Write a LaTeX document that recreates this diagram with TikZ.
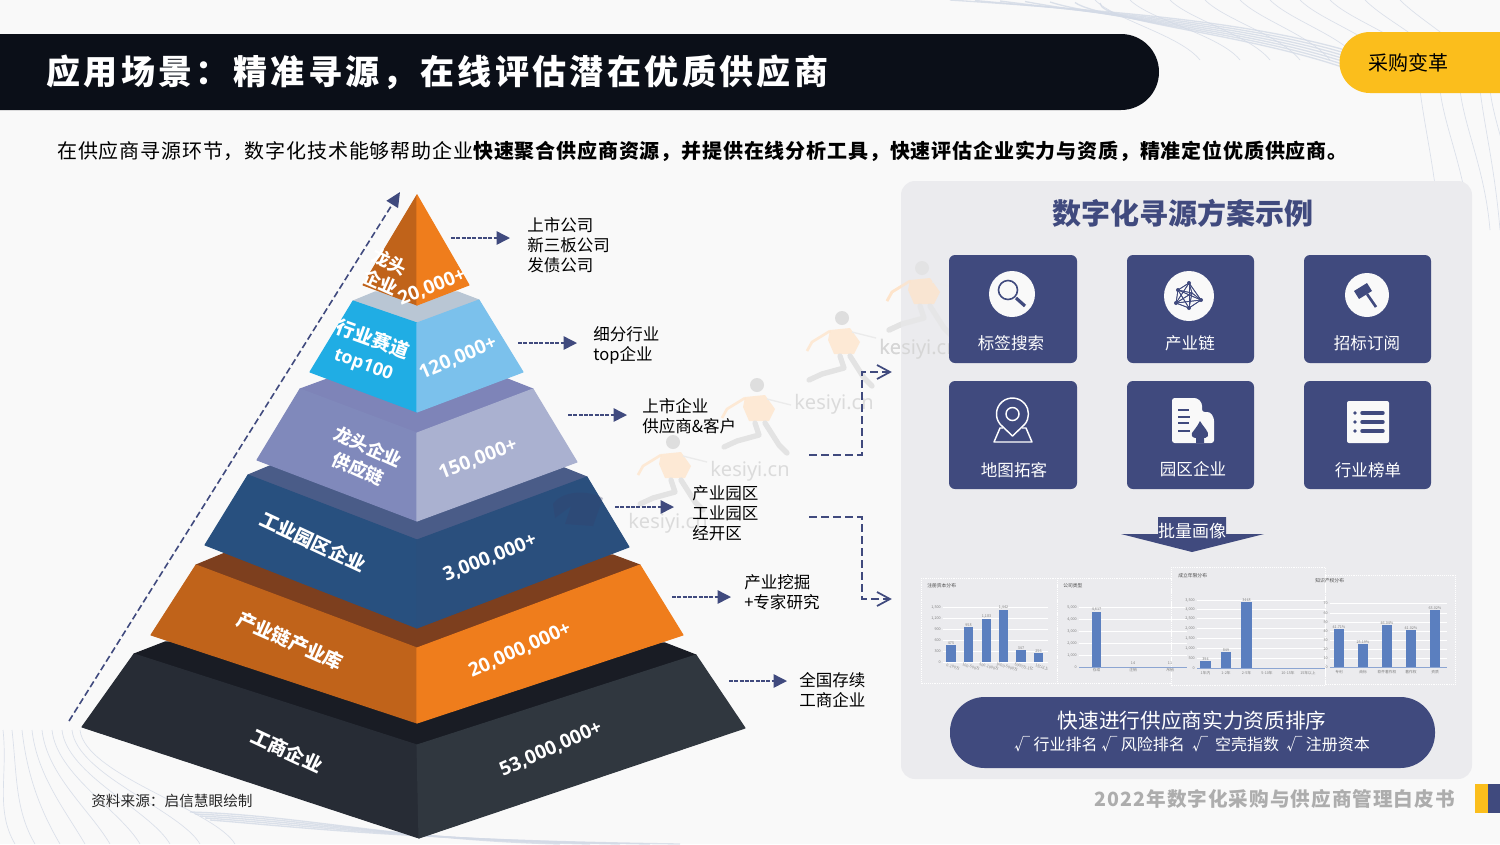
\documentclass[tikz,border=0pt]{standalone}
\usepackage{fontspec}
\setmainfont{Noto Sans CJK SC}
\newfontfamily\titlef[LetterSpace=10]{Noto Sans CJK SC}
\newfontfamily\subf[LetterSpace=4.2]{Noto Sans CJK SC}
\newfontfamily\footf[LetterSpace=5.2]{Noto Sans CJK SC}
\newfontfamily\numf{Open Sans}
\newfontfamily\wmf{Noto Sans}
\definecolor{navy}{HTML}{404A7E}
\definecolor{bg}{HTML}{F9F9F9}
\definecolor{panel}{HTML}{EBEBEE}
\definecolor{barc}{HTML}{5B7FBF}
\definecolor{swirl}{HTML}{D3DAE6}
\definecolor{orR}{HTML}{EF7D1C}
\definecolor{orL}{HTML}{C0631A}
\definecolor{yel}{HTML}{FBBE1C}
\definecolor{hdr}{HTML}{0B0F18}
\usetikzlibrary{arrows.meta}
\tikzset{
  face/.style={line width=0.8pt,line join=round},
  flab/.style={text=white,font=\fontsize{14.25}{17}\selectfont\bfseries,align=center,inner sep=0},
  nlab/.style={text=white,font=\numf\fontsize{14.4}{17}\selectfont\bfseries,inner sep=0},
  side/.style={text=black,font=\fontsize{12.4}{15}\selectfont,align=left,anchor=west,inner sep=0},
  hint/.style={navy,line width=1.1pt,dash pattern=on 3pt off 1pt,-{Triangle[length=10pt,width=10pt]}},
  bracket/.style={navy,line width=1.3pt,dash pattern=on 6pt off 3pt},
  tile/.style={fill=navy,rounded corners=4.5pt,draw=none},
  tlab/.style={text=white,font=\fontsize{12.4}{15}\selectfont,inner sep=0},
  ink/.style={navy,line width=1pt},
  gridl/.style={white,line width=0.5pt},
  cbox/.style={draw=white,line width=0.4pt,densely dotted},
  ctext/.style={text=gray,font=\fontsize{2.8}{3}\selectfont,inner sep=0},
  ctitle/.style={text=black!70,font=\fontsize{3.6}{4}\selectfont,inner sep=0},
  wm/.style={text=black!14,font=\wmf\fontsize{15}{15}\selectfont,inner sep=0},
  swl/.style={swirl,line width=0.5pt,opacity=.8}
}
\newcommand{\runner}[2]{%
  \begin{scope}[shift={(#1,#2)}]
    \fill[black!13] (0,0) circle (7);
    \fill[orange!22,opacity=.7] (-12,12) -- (8,10) -- (18,24) -- (12,36) -- (-8,36) -- (-14,22) -- cycle;
    \draw[orange!22,opacity=.7,line width=2pt] (-12,13) -- (-30,24) -- (-35,33);
    \draw[black!8,line width=1pt] (10,14) -- (34,20);
    \draw[black!11,line width=4pt,line cap=round,line join=round] (-2,38) -- (2,50) -- (-20,56) -- (-33,62);
    \draw[black!11,line width=4pt,line cap=round,line join=round] (8,38) -- (22,60) -- (30,68);
  \end{scope}}
\begin{document}
\begin{tikzpicture}[x=0.75pt,y=-0.75pt]
\useasboundingbox (0,0) rectangle (1500,844);
\fill[bg] (0,0) rectangle (1500,844);
% background swirls
\foreach \a/\b in {1095/1200,1130/1240,1170/1270,1205/1300,1240/1330,1270/1360,1300/1390,1330/1420,1365/1440,1400/1470}
  \draw[swl] (\a,0) .. controls (\a+20,20) and (\b-20,35) .. (\b,60);
\foreach \a in {0,1,2,3,4,5,6}
  \draw[swl,line width=1pt] (950+\a*25,0+\a*0.5) .. controls (1100,10+\a*2) and (1240,20+\a*2) .. (1345,50+\a*3);
\foreach \a/\b in {1420/1440,1440/1470,1460/1490,1480/1500,1490/1520}
  \draw[swl] (\a,90) .. controls (\a+5,130) and (\b-5,170) .. (\b,230);
\foreach \a/\b in {3/15,12/35,22/60,32/85,42/110,52/140,62/170,72/200,80/235}
  \draw[swl] (\a,730) .. controls (\a+5,775) and (\b-20,810) .. (\b,844);
\foreach \a in {0,1,2,3,4}
  \draw[swl,line width=1pt] (190+\a*5,812+\a*2) .. controls (300,815+\a*3) and (400,840) .. (560+\a*30,844);
% watermarks behind
\runner{922}{268}\runner{842}{318}\runner{757}{385}\runner{673}{442}
\node[wm] (wm1) at (919,349) {kesiyi.cn};
\node[wm] (wm2) at (834,404) {kesiyi.cn};
\node[wm] (wm3) at (750,471) {kesiyi.cn};
\node[wm] (wm4) at (668,523) {kesiyi.cn};
% header
\fill[hdr] (0,34) -- (1121,34) arc (-90:90:38) -- (0,110) -- cycle;
\node[anchor=west,text=white,inner sep=0,font=\titlef\fontsize{25.5}{26}\selectfont\bfseries] (title) at (46,72) {应用场景：精准寻源，在线评估潜在优质供应商};
\fill[yel] (1500,32) -- (1370,32) arc (-90:-270:30.5) -- (1500,93) -- cycle;
\node[text=black,inner sep=0,font=\fontsize{15}{15}\selectfont] (tab) at (1408,63) {采购变革};
\node[anchor=west,text=black,inner sep=0,font=\subf\fontsize{15}{15}\selectfont] (sub) at (57,151) {在供应商寻源环节，数字化技术能够帮助企业{\bfseries 快速聚合供应商资源，并提供在线分析工具，快速评估企业实力与资质，精准定位优质供应商。}};
% big dashed arrow
\coordinate (axisA) at (69,721); \coordinate (axisB) at (400,192);
\draw[navy,line width=1.2pt,dash pattern=on 5pt off 2.5pt,-{Triangle[length=11pt,width=10pt]}] (axisA) -- (axisB);
% pyramid tier 6
\filldraw[face,draw={rgb,255:red,25;green,28;blue,36},fill={rgb,255:red,25;green,28;blue,36}] (134,654) -- (165,642) -- (665,643) -- (696,655) -- (417,745) -- cycle;
\filldraw[face,draw={rgb,255:red,39;green,44;blue,53},fill={rgb,255:red,39;green,44;blue,53}] (134,654) -- (417,745) -- (419,838) -- (82,727) -- cycle;
\filldraw[face,draw={rgb,255:red,48;green,55;blue,63},fill={rgb,255:red,48;green,55;blue,63}] (696,655) -- (417,745) -- (419,838) -- (745,728) -- cycle;
% tier 5
\filldraw[face,draw={rgb,255:red,125;green,63;blue,30},fill={rgb,255:red,125;green,63;blue,30}] (196,565) -- (225,553) -- (613,555) -- (640,565) -- (417,648) -- cycle;
\filldraw[face,draw=orL,fill=orL] (196,565) -- (417,648) -- (417,723) -- (151,635) -- cycle;
\filldraw[face,draw=orR,fill=orR] (640,565) -- (417,648) -- (417,723) -- (683,635) -- cycle;
% tier 4
\filldraw[face,draw={rgb,255:red,74;green,92;blue,136},fill={rgb,255:red,74;green,92;blue,136}] (248,475) -- (272,465) -- (562,467) -- (587,477) -- (417,540) -- cycle;
\filldraw[face,draw={rgb,255:red,40;green,80;blue,127},fill={rgb,255:red,40;green,80;blue,127}] (248,475) -- (417,540) -- (417,628) -- (205,545) -- cycle;
\filldraw[face,draw={rgb,255:red,42;green,79;blue,125},fill={rgb,255:red,42;green,79;blue,125}] (587,477) -- (417,540) -- (417,628) -- (629,547) -- cycle;
% tier 3
\filldraw[face,draw={rgb,255:red,126;green,132;blue,184},fill={rgb,255:red,126;green,132;blue,184}] (300,389) -- (330,378) -- (505,378) -- (533,389) -- (417,433) -- cycle;
\filldraw[face,draw={rgb,255:red,128;green,137;blue,187},fill={rgb,255:red,128;green,137;blue,187}] (300,389) -- (417,433) -- (417,521) -- (257,460) -- cycle;
\filldraw[face,draw={rgb,255:red,170;green,177;blue,208},fill={rgb,255:red,170;green,177;blue,208}] (533,389) -- (417,433) -- (417,521) -- (577,462) -- cycle;
% tier 2
\filldraw[face,draw={rgb,255:red,185;green,198;blue,212},fill={rgb,255:red,185;green,198;blue,212}] (353,301) -- (375,292) -- (458,292) -- (479,300) -- (417,323) -- cycle;
\filldraw[face,draw={rgb,255:red,32;green,173;blue,228},fill={rgb,255:red,32;green,173;blue,228}] (353,301) -- (417,323) -- (417,412) -- (310,372) -- cycle;
\filldraw[face,draw={rgb,255:red,123;green,193;blue,236},fill={rgb,255:red,123;green,193;blue,236}] (479,300) -- (417,323) -- (417,412) -- (523,372) -- cycle;
% top
\filldraw[face,draw=orL,fill=orL] (417,195) -- (417,305) -- (363,285) -- cycle;
\filldraw[face,draw=orR,fill=orR] (417,195) -- (417,305) -- (469,285) -- cycle;
% watermark over dark blue
\begin{scope}[shift={(583,498)}]
  \fill[navy!85!black,opacity=.3] (-30,6) .. controls (-20,-8) and (5,-8) .. (20,0) -- (10,28) -- (-18,26) -- (-12,8) -- (-28,20) -- cycle;
\end{scope}
% pyramid labels
\node[flab,rotate=-25] (l6) at (287,751) {工商企业};
\node[nlab,rotate=24] (n6) at (551,749) {53,000,000+};
\node[flab,rotate=-24] (l5) at (290,641) {产业链产业库};
\node[nlab,rotate=24] (n5) at (520,650) {20,000,000+};
\node[flab,rotate=-25] (l4) at (313,542) {工业园区企业};
\node[nlab,rotate=22] (n4) at (490,558) {3,000,000+};
\node[flab,rotate=-24,font=\fontsize{13.5}{18}\selectfont\bfseries] (l3) at (363,458) {龙头企业\\供应链};
\node[nlab,rotate=21] (n3) at (478,459) {150,000+};
\node[flab,rotate=-20,font=\fontsize{14.25}{19}\selectfont\bfseries] (l2) at (368,352) {行业赛道\\{\numf\fontsize{13.5}{19}\selectfont top100}};
\node[nlab,rotate=23] (n2) at (458,358) {120,000+};
\node[flab,rotate=-24,font=\fontsize{13.5}{17}\selectfont\bfseries] (l1) at (385,272) {龙头\\企业};
\node[nlab,rotate=22] (n1) at (432,287) {20,000+};
% side text & arrows
\node[side] (s1) at (527,245) {上市公司\\新三板公司\\发债公司};
\node[side] (s2) at (593,345) {细分行业\\top企业};
\node[side] (s3) at (642,416) {上市企业\\供应商\&客户};
\node[side] (s4) at (692,513) {产业园区\\工业园区\\经开区};
\node[side] (s5) at (744,592) {产业挖掘\\+专家研究};
\node[side] (s6) at (799,690) {全国存续\\工商企业};
\coordinate (h1a) at (451,238); \coordinate (h1b) at (510,238);
\coordinate (h2a) at (518,343); \coordinate (h2b) at (577,343);
\coordinate (h3a) at (568,415); \coordinate (h3b) at (627,415);
\coordinate (h4a) at (615,507); \coordinate (h4b) at (674,507);
\coordinate (h5a) at (672,597); \coordinate (h5b) at (731,597);
\coordinate (h6a) at (729,681); \coordinate (h6b) at (787,681);
\draw[hint] (h1a) -- (h1b);
\draw[hint] (h2a) -- (h2b);
\draw[hint] (h3a) -- (h3b);
\draw[hint] (h4a) -- (h4b);
\draw[hint] (h5a) -- (h5b);
\draw[hint] (h6a) -- (h6b);
% brackets
\coordinate (b1a) at (809,455); \coordinate (b1b) at (862,372); \coordinate (b1c) at (890,372);
\coordinate (b2a) at (809,517); \coordinate (b2b) at (862,599); \coordinate (b2c) at (890,599);
\draw[bracket] (b1a) -| (b1b) -- (b1c);
\draw[bracket] (b2a) -| (b2b) -- (b2c);
\draw[navy,line width=1.3pt] (877,365) -- (890,372) -- (877,379);
\draw[navy,line width=1.3pt] (877,592) -- (890,599) -- (877,606);
% panel
\fill[panel,rounded corners=10.5pt] (901,181) rectangle (1472,779);
\begin{scope}[opacity=.6]\runner{922}{268}\end{scope}
\node[wm,text=black!16] (wm5) at (919,349) {kesiyi.cn};
\node[text=navy,inner sep=0,font=\fontsize{21.75}{22}\selectfont\bfseries] (ptitle) at (1183,213) {数字化寻源方案示例};
% tiles
\fill[tile] (949,255) rectangle (1077,363);
\fill[tile] (1127,255) rectangle (1254,363);
\fill[tile] (1304,255) rectangle (1431,363);
\fill[tile] (949,381) rectangle (1077,489);
\fill[tile] (1127,381) rectangle (1254,489);
\fill[tile] (1304,381) rectangle (1431,489);
\node[tlab] (t1) at (1011,343) {标签搜索};
\node[tlab] (t2) at (1190,343) {产业链};
\node[tlab] (t3) at (1367,343) {招标订阅};
\node[tlab] (t4) at (1014,470) {地图拓客};
\node[tlab] (t5) at (1193,469) {园区企业};
\node[tlab] (t6) at (1368,470) {行业榜单};
% icon: magnifier
\fill[bg] (1012,294) circle (23);
\draw[ink,line width=1.2pt] (1008,290) circle (9.5);
\draw[navy,line width=2.4pt] (1016,298) -- (1025,306);
% icon: network
\fill[bg] (1189,296) circle (25);
\foreach \p/\q in {1189/283,1178/290,1176/303,1189/308,1201/300,1192/293}
  \foreach \r/\s in {1189/283,1178/290,1176/303,1189/308,1201/300,1192/293}
    \draw[navy,line width=0.55pt] (\p,\q) -- (\r,\s);
\foreach \p/\q in {1189/283,1178/290,1176/303,1189/308,1201/300}
  \fill[navy] (\p,\q) circle (2);
% icon: gavel
\fill[bg] (1367,295) circle (22);
\fill[navy] (1354,291) -- (1367,283) -- (1372,291) -- (1359,299) -- cycle;
\draw[navy,line width=2pt] (1367,294) -- (1376,307);
% icon: pin
\draw[white,line width=1.1pt,line join=round] (1012.5,436) -- (1000.2,424.3) arc (140:400:16) -- cycle;
\draw[white,line width=1.1pt] (1012.5,414) circle (6.5);
\draw[white,line width=1.1pt,line join=round] (1003,428) -- (1000,428) -- (994,442) -- (1032,442) -- (1026,428) -- (1022,428);
% icon: building
\fill[bg,rounded corners=2pt] (1172,443) -- (1172,398) -- (1197,398) -- (1202,403) -- (1202,412) -- (1210,412) -- (1214,418) -- (1214,443) -- cycle;
\foreach \yy/\ww in {410/1189,417/1190,423/1189,431/1190}
  \draw[navy,line width=1.1pt] (1178,\yy) -- (\ww,\yy);
\fill[navy] (1200,421) .. controls (1204,428) and (1209,431) .. (1208,436) .. controls (1207,438) and (1204,438) .. (1204,438) -- (1204,443) -- (1196,443) -- (1196,438) .. controls (1193,438) and (1191,436) .. (1192,433) .. controls (1194,430) and (1197,427) .. (1200,421) -- cycle;
% icon: list
\fill[bg,rounded corners=1.5pt] (1347,401) rectangle (1389,443);
\foreach \yy in {413,422,431}{
  \fill[navy] (1355,\yy) circle (1.8);
  \draw[navy,line width=2.6pt,line cap=round] (1362,\yy) -- (1383,\yy);
}
% batch arrow
\fill[navy] (1158,517) -- (1226,517) -- (1226,534) -- (1264,534) -- (1192,552) -- (1121,534) -- (1158,534) -- cycle;
\node[text=white,inner sep=0,font=\fontsize{12.75}{15}\selectfont] (batch) at (1192,531) {批量画像};
% chart boxes
\draw[cbox] (921,578) rectangle (1057,683);
\draw[cbox] (1057,578) rectangle (1171,683);
\draw[cbox] (1171,567) rectangle (1325,685);
\draw[cbox] (1325,575) rectangle (1455,684);
\node[ctitle,anchor=west] (c1t) at (927,586) {注册资本分布};
\node[ctitle,anchor=west] (c2t) at (1063,586) {公司类型};
\node[ctitle,anchor=west] (c3t) at (1178,576) {成立年限分布};
\node[ctitle,anchor=west] (c4t) at (1315,581) {知识产权分布};
% chart 1
\foreach \yy/\tt in {607/{1,500},618/{1,200},629/900,640/600,651/300,662/0}{
  \draw[gridl] (943,\yy) -- (1048,\yy);
  \node[ctext,anchor=east] at (941,\yy) {\tt};}
\foreach \xa/\xb/\tp in {946/956/645,964/973/627,982/991/619,999/1008/610,1016/1026/650,1034/1043/653}
  \fill[barc] (\xa,\tp) rectangle (\xb,662);
\foreach \xx/\tp/\vv in {951/645/475,968.5/627/958,986.5/619/{1,183},1003.5/610/{1,442},1021/650/347,1038.5/653/256}
  \node[ctext,above=0.3pt] at (\xx,\tp) {\vv};
\foreach \xx/\tt in {953/0-100万,971/100-500万,989/500-1000万,1007/1000-5000万,1024/5000万-1亿,1042/1亿以上}
  \node[ctext,rotate=-15] at (\xx,667) {\tt};
% chart 2
\foreach \yy/\tt in {607/{5,000},619/{4,000},631/{3,000},643/{2,000},655/{1,000},667/0}{
  \draw[gridl] (1079,\yy) -- (1187,\yy);
  \node[ctext,anchor=east] at (1077,\yy) {\tt};}
\draw[barc!70,line width=0.4pt] (1079,667) -- (1187,667);
\fill[barc] (1092,612) rectangle (1101,667);
\node[ctext,above=0.3pt] at (1096.5,612) {4,617};
\node[ctext,above=0.3pt] at (1133,665) {14};
\node[ctext,above=0.3pt] at (1170,665) {11};
\node[ctext] at (1096.5,670.5) {存续};
\node[ctext] at (1133,670.5) {注销};
\node[ctext] at (1170,670.5) {吊销};
% chart 3
\foreach \yy/\tt in {600/{3,500},609/{3,000},618/{2,500},628/{2,000},638/{1,500},648/{1,000},658/500,668/0}{
  \draw[gridl] (1197,\yy) -- (1325,\yy);
  \node[ctext,anchor=east] at (1195,\yy) {\tt};}
\draw[barc!70,line width=0.4pt] (1197,668) -- (1325,668);
\fill[barc] (1200,661) rectangle (1211,668);
\fill[barc] (1221,652) rectangle (1231,668);
\fill[barc] (1241,602) rectangle (1252,668);
\node[ctext,above=0.3pt] at (1205.5,661) {394};
\node[ctext,above=0.3pt] at (1226,652) {849};
\node[ctext,above=0.3pt] at (1246.5,602) {3448};
\foreach \xx/\tt in {1205.5/1年内,1226/1-2年,1246.5/2-5年,1267/5-10年,1288/10-15年,1308/15年以上}
  \node[ctext] at (\xx,673) {\tt};
% chart 4
\foreach \yy/\tt in {603/70,613/60,622/50,631/40,640/30,649/20,658/10,667/0}{
  \draw[gridl] (1330,\yy) -- (1447,\yy);
  \node[ctext,anchor=east] at (1328,\yy) {\tt};}
\draw[barc!70,line width=0.4pt] (1330,667) -- (1447,667);
\foreach \xa/\xb/\tp/\vv in {1334/1344/629/41.71\%,1358/1368/644/25.19\%,1382/1392/625/46.04\%,1406/1416/630/41.02\%,1430/1440/610/63.02\%}{
  \fill[barc] (\xa,\tp) rectangle (\xb,667);
  \node[ctext,above=0.3pt] at ({(\xa+\xb)/2},\tp) {\vv};
}
\foreach \xx/\tt in {1339/专利,1363/商标,1387/软件著作权,1411/著作权,1435/资质}
  \node[ctext] at (\xx,672) {\tt};
% pill
\fill[navy,rounded corners=26pt] (950,697) rectangle (1435,768);
\node[text=white,inner sep=0,font=\fontsize{15.5}{16}\selectfont] (pill1) at (1192,721) {快速进行供应商实力资质排序};
\node[text=white,inner sep=0,font=\fontsize{12}{13}\selectfont] (pill2) at (1192,744) {√ 行业排名 √ 风险排名 \ √ \ 空壳指数 \ √ 注册资本};
% footer
\node[anchor=west,text=black!85,inner sep=0,font=\fontsize{11}{11}\selectfont] (src) at (91,801) {资料来源：启信慧眼绘制};
\node[anchor=east,text=black!32,inner sep=0,font=\footf\fontsize{14.7}{15}\selectfont\bfseries] (foot) at (1455,799) {2022年数字化采购与供应商管理白皮书};
\fill[yel] (1475,784) rectangle (1488,813);
\fill[navy] (1488,784) rectangle (1500,813);
\end{tikzpicture}
\end{document}
